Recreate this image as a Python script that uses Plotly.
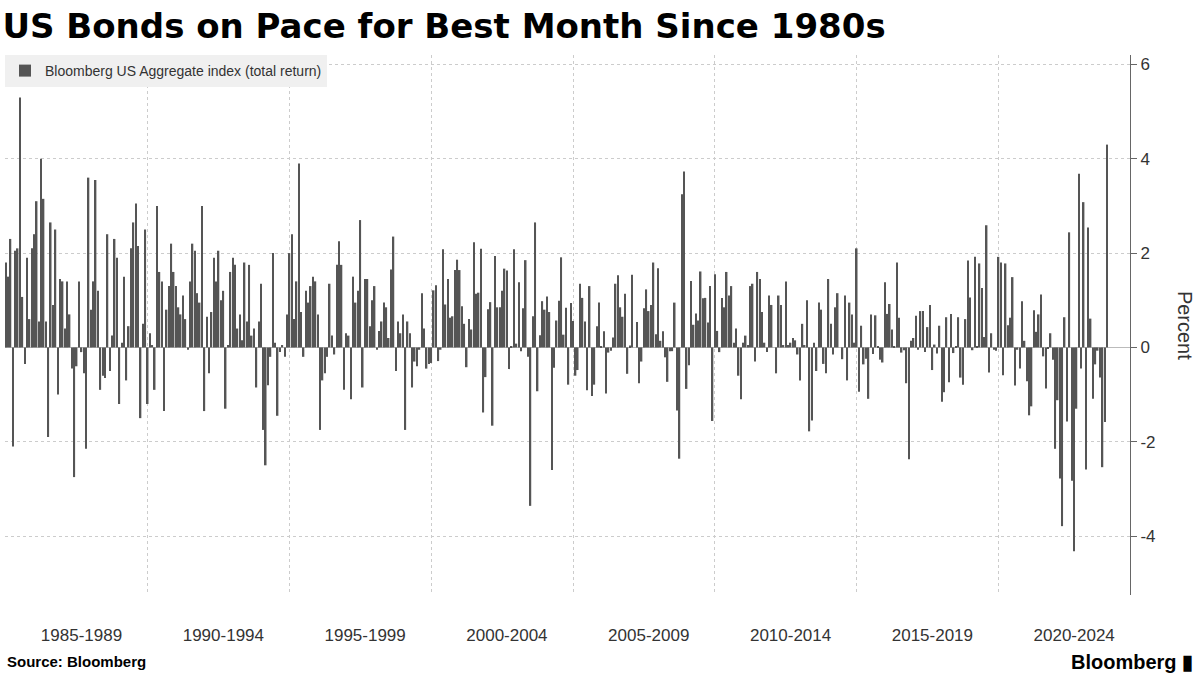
import plotly.graph_objects as go
import pandas as pd

series_name = "Bloomberg US Aggregate index (total return)"
group_labels = ["1985-1989", "1990-1994", "1995-1999", "2000-2004",
                "2005-2009", "2010-2014", "2015-2019", "2020-2024"]
group_centers = ["1987-09-01", "1992-09-01", "1997-09-01", "2002-09-01",
                 "2007-09-01", "2012-09-01", "2017-09-01", "2022-09-01"]
y_ticks = [-4, -2, 0, 2, 4, 6]

r1985_1989 = [1.8, 1.5, 2.3, -2.1, 2.05, 2.1, 5.3, 1.07, -0.35, 1.9, 0.6, 2.1,
              2.4, 3.1, 0.55, 4.0, 3.15, 0.55, -1.9, 2.65, 0.9, 2.5, -1.0, 1.45,
              1.4, 0.4, 1.4, 0.7, -0.45, -2.75, -0.4, 1.4, -0.1, -0.55, -2.15, 3.6,
              0.8, 1.4, 3.55, 1.2, -0.9, -0.6, -0.65, 2.4, -0.5, 0.25, 2.3, 1.9,
              -1.2, 0.1, 1.5, -0.7, 0.45, 2.1, 2.65, 3.05, 2.15, -1.5, 0.5, 2.5]
r1990_1994 = [-1.2, 0.3, 0.05, -0.9, 3.0, 1.6, 1.4, -1.35, 0.8, 1.3, 2.2, 1.6,
              1.3, 0.85, 0.7, 1.1, 0.6, -0.05, 1.4, 2.2, 2.05, 1.15, 0.95, 3.0,
              -1.35, 0.65, -0.55, 0.75, 1.9, 1.4, 2.05, 1.0, 1.2, -1.3, 0.05, 1.6,
              1.9, 1.75, 0.4, 0.7, 0.15, 1.8, 0.55, 1.75, 0.25, 0.4, -0.85, 0.55,
              1.35, -1.75, -2.5, -0.8, -0.2, 2.0, 0.1, -1.45, -0.1, 0.05, -0.2, 0.7]
r1995_1999 = [2.0, 2.4, 0.6, 1.4, 3.9, 0.75, -0.2, 1.2, 0.95, 1.3, 1.5, 1.4,
              0.7, -1.75, -0.7, -0.55, -0.2, 1.35, 0.25, -0.15, 1.75, 2.25, 1.75, -0.9,
              0.3, 0.25, -1.1, 1.5, 0.95, 1.2, 2.7, -0.85, 1.45, 1.45, 0.45, 1.0,
              1.3, -0.05, 0.35, 0.55, 0.95, 0.85, 0.2, 1.65, 2.35, -0.5, 0.55, 0.3,
              0.7, -1.75, 0.55, 0.3, -0.85, -0.3, -0.4, -0.05, 1.15, 0.4, -0.45, -0.35]
r2000_2004 = [-0.33, 1.21, 1.32, -0.29, -0.05, 2.08, 0.91, 1.45, 0.63, 0.66, 1.64, 1.86,
              1.64, 0.87, 0.50, -0.42, 0.60, 0.38, 2.23, 1.14, 1.16, 2.09, -1.38, -0.63,
              0.81, 0.96, -1.66, 1.94, 0.85, 0.85, 1.20, 1.67, 1.63, -0.46, 0.03, 2.08,
              0.08, 1.38, -0.08, 0.83, 1.85, -0.20, -3.36, 0.66, 2.65, -0.93, 0.26, 0.98,
              0.80, 1.08, 0.75, -2.60, -0.43, 0.57, 0.99, 1.91, 0.27, 0.84, -0.79, 0.94]
r2005_2009 = [0.56, -0.60, -0.48, 1.35, 1.05, 0.55, -0.91, 1.30, -1.03, -0.79, 0.45, 0.95,
              0.01, 0.34, -0.98, -0.11, -0.07, 0.21, 1.35, 1.53, 0.85, 0.65, 1.14, -0.56,
              0.04, 1.54, 0.00, 0.54, -0.76, -0.30, 0.83, 1.23, 0.77, 0.90, 1.80, 0.28,
              1.68, 0.14, 0.34, -0.21, -0.73, -0.08, -0.08, 0.95, -1.34, -2.36, 3.25, 3.73,
              -0.88, -0.38, 1.41, 0.48, 0.72, 0.57, 1.61, 1.04, 1.05, 0.53, 1.30, -1.56]
r2010_2014 = [1.55, 0.35, -0.1, 1.05, 0.85, 1.6, 1.1, 1.3, 0.1, 0.4, -0.6, -1.1,
              0.1, 0.25, 0.05, 1.3, 1.35, -0.3, 1.6, 1.45, 0.75, 0.1, -0.1, 1.1,
              0.9, 0.0, -0.55, 1.1, 0.9, 0.05, 1.4, 0.05, 0.1, 0.2, 0.15, -0.15,
              -0.7, 0.5, 0.05, 1.0, -1.78, -1.55, 0.1, -0.5, 0.95, 0.8, -0.35, -0.55,
              1.45, 0.5, -0.15, 0.85, 1.15, 0.0, -0.25, 1.1, -0.7, 0.95, 0.7, 0.1]
r2015_2019 = [2.10, -0.94, 0.46, -0.36, -0.24, -1.09, 0.70, -0.14, 0.68, 0.02, -0.26, -0.32,
              1.38, 0.71, 0.92, 0.38, 0.03, 1.80, 0.63, -0.11, -0.06, -0.76, -2.37, 0.14,
              0.20, 0.67, -0.05, 0.77, 0.77, -0.10, 0.43, 0.90, -0.48, 0.06, -0.13, 0.46,
              -1.15, -0.95, 0.64, -0.74, 0.71, -0.12, 0.02, 0.64, -0.64, -0.79, 0.60, 1.84,
              1.06, -0.06, 1.92, 0.03, 1.78, 1.26, 0.22, 2.59, -0.53, 0.30, -0.05, -0.07]
r2020_2023 = [1.92, 1.80, -0.59, 1.78, 0.47, 0.63, 1.49, -0.81, -0.05, -0.45, 0.98, 0.14,
              -0.72, -1.44, -1.25, 0.79, 0.33, 0.70, 1.12, -0.19, -0.87, -0.03, 0.30, -0.26,
              -2.15, -1.12, -2.78, -3.79, 0.64, -1.57, 2.44, -2.83, -4.32, -1.30, 3.68, -0.45,
              3.08, -2.59, 2.54, 0.61, -1.09, -0.36, -0.07, -0.64, -2.54, -1.58, 4.30]

values = (r1985_1989 + r1990_1994 + r1995_1999 + r2000_2004 + r2005_2009
          + r2010_2014 + r2015_2019 + r2020_2023)
months = pd.date_range("1985-01-01", periods=len(values), freq="MS")

fig = go.Figure()
fig.add_trace(go.Bar(x=months, y=values, name=series_name,
                     marker=dict(color="#555555", line=dict(width=0)),
                     showlegend=True))

fig.update_layout(
    width=1202, height=676,
    margin=dict(l=5, r=72, t=55, b=81),
    plot_bgcolor="white", paper_bgcolor="white",
    font=dict(family="Liberation Sans, Arial", color="#333333"),
    bargap=0.3,
    title=dict(text="<b>US Bonds on Pace for Best Month Since 1980s</b>",
               x=0.002, xanchor="left", y=0.962, yanchor="middle",
               font=dict(size=34, color="#000000", family="DejaVu Sans")),
    legend=dict(x=0, y=1, xanchor="left", yanchor="top",
                bgcolor="#f0f0f0", font=dict(size=14, color="#333333"),
                itemwidth=30),
    xaxis=dict(type="date", range=["1984-12-20", "2024-08-20"],
               tickvals=group_centers, ticktext=group_labels,
               showgrid=False, ticks="", tickfont=dict(size=17, color="#333333"),
               ticklabelstandoff=28,
               zeroline=False, showline=False,
               minor=dict(tick0="1985-01-01", dtick="M60", showgrid=True,
                          gridcolor="#cccccc", griddash="dot", gridwidth=1)),
    yaxis=dict(side="right", range=[-5.25, 6.2], tickvals=y_ticks,
               ticktext=["-4", "-2", "0", "2", "4", "6"],
               showgrid=True, gridcolor="#cccccc", griddash="dot",
               zeroline=True, zerolinecolor="#bbbbbb", zerolinewidth=1,
               showline=True, linecolor="#666666", linewidth=1,
               ticks="outside", ticklen=6, tickcolor="#666666",
               tickfont=dict(size=17, color="#333333")),
    annotations=[
        dict(text="Percent", textangle=90, xref="paper", yref="paper",
             x=1.049, y=0.5, xanchor="center", showarrow=False,
             font=dict(size=20, color="#333333")),
        dict(text="<b>Source: Bloomberg</b>", xref="paper", yref="paper",
             x=0.0, y=-0.124, xanchor="left", yanchor="middle", showarrow=False,
             font=dict(size=15, color="#000000")),
        dict(text="<b>Bloomberg ▮</b>", xref="paper", yref="paper",
             x=1.058, y=-0.124, xanchor="right", yanchor="middle", showarrow=False,
             font=dict(size=20, color="#000000")),
    ],
)

fig.write_html("out.html", config={"displayModeBar": False},
               post_script="document.body.style.margin='0';document.body.style.overflow='hidden';")
